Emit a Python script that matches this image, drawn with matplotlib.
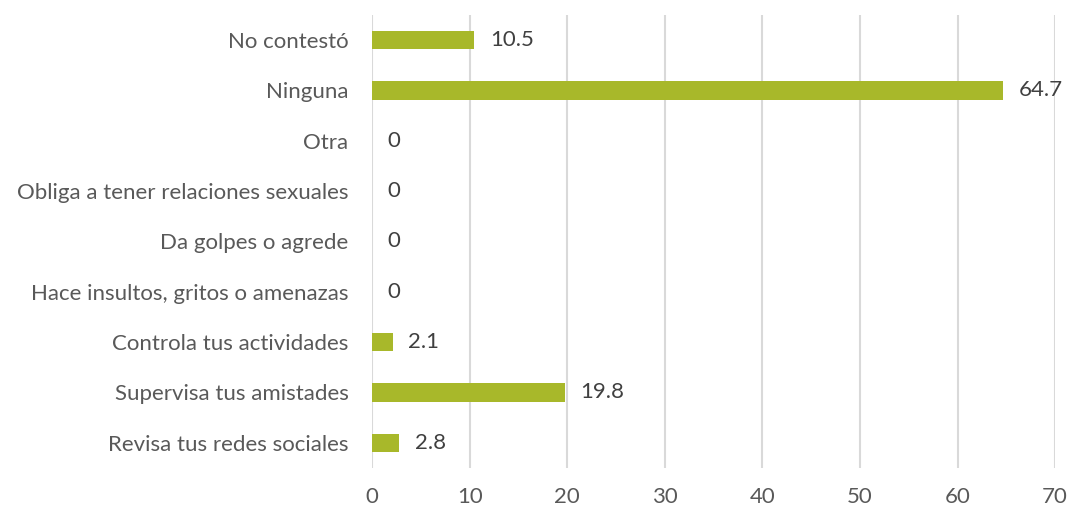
import matplotlib
matplotlib.use("Agg")
import matplotlib.pyplot as plt

# categories top -> bottom as shown
categories = [
    "No contestó",
    "Ninguna",
    "Otra",
    "Obliga a tener relaciones sexuales",
    "Da golpes o agrede",
    "Hace insultos, gritos o amenazas",
    "Controla tus actividades",
    "Supervisa tus amistades",
    "Revisa tus redes sociales",
]
values = [10.5, 64.7, 0, 0, 0, 0, 2.1, 19.8, 2.8]
value_labels = ["10.5", "64.7", "0", "0", "0", "0", "2.1", "19.8", "2.8"]
xticks = [0, 10, 20, 30, 40, 50, 60, 70]

bar_color = "#A8B82A"
text_color = "#595959"
plt.rcParams["font.family"] = ["Lato", "DejaVu Sans"]
fs = 16

fig = plt.figure(figsize=(10.69, 5.09), dpi=100)
ax = fig.add_axes([0.348, 0.0806, 0.639, 0.890])

ypos = list(range(len(categories)))[::-1]
ax.barh(ypos, values, height=0.36, color=bar_color, zorder=3)

for y, v, lbl in zip(ypos, values, value_labels):
    ax.annotate(lbl, (v, y), xytext=(11, 0), textcoords="offset points",
                ha="left", va="center", fontsize=fs, color="#404040")

ax.set_yticks(ypos)
ax.set_yticklabels(categories, fontsize=fs, color=text_color)
ax.set_xticks(xticks)
ax.set_xticklabels([str(t) for t in xticks], fontsize=fs, color=text_color)
ax.set_xlim(0, 70)
ax.set_ylim(-0.5, len(categories) - 0.5)

for s in ax.spines.values():
    s.set_visible(False)
ax.tick_params(axis="both", length=0)
ax.tick_params(axis="y", pad=17)
ax.tick_params(axis="x", pad=14)
ax.grid(axis="x", color="#D9D9D9", linewidth=1.5, zorder=0)
ax.set_axisbelow(True)

fig.savefig("out.png", dpi=100)
